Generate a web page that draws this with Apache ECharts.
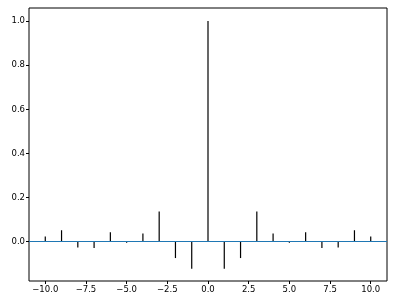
<!DOCTYPE html>
<html>
<head>
<meta charset="utf-8">
<script src="https://cdn.jsdelivr.net/npm/echarts@6/dist/echarts.min.js"></script>
<style>
  html, body { margin: 0; padding: 0; background: #fff; }
  #chart { width: 396px; height: 306px; }
</style>
</head>
<body>
<div id="chart"></div>
<script>
const lags = [-10, -9, -8, -7, -6, -5, -4, -3, -2, -1, 0, 1, 2, 3, 4, 5, 6, 7, 8, 9, 10];
const corr = [0.024, 0.052, -0.026, -0.029, 0.043, -0.005, 0.037, 0.137, -0.074, -0.123, 1.0,
              -0.123, -0.074, 0.137, 0.037, -0.005, 0.043, -0.029, -0.026, 0.052, 0.024];
const xTicks = [-10, -7.5, -5, -2.5, 0, 2.5, 5, 7.5, 10];
const yTicks = [0, 0.2, 0.4, 0.6, 0.8, 1.0];

const fmt = v => v.toFixed(1).replace('-', '\u2212');
const font = { color: '#000', fontFamily: 'DejaVu Sans', fontSize: 8.5 };

const chart = echarts.init(document.getElementById('chart'));
chart.setOption({
  backgroundColor: '#fff',
  animation: false,
  grid: { left: 29, right: 9, top: 8, bottom: 25, show: true, borderColor: '#000', borderWidth: 1 },
  xAxis: {
    type: 'value', min: -11, max: 11,
    axisLine: { show: false, onZero: false },
    splitLine: { show: false },
    axisTick: { show: true, length: 3, customValues: xTicks, lineStyle: { color: '#000' } },
    axisLabel: { ...font, margin: 4, customValues: xTicks, formatter: fmt }
  },
  yAxis: {
    type: 'value', min: -0.178, max: 1.059,
    axisLine: { show: false, onZero: false },
    splitLine: { show: false },
    axisTick: { show: true, length: 3, customValues: yTicks, lineStyle: { color: '#000' } },
    axisLabel: { ...font, margin: 4, customValues: yTicks, formatter: fmt }
  },
  series: [{
    type: 'bar',
    data: lags.map((l, i) => [l, corr[i]]),
    barWidth: 1.2,
    itemStyle: { color: '#000' },
    markLine: {
      silent: true,
      symbol: 'none',
      label: { show: false },
      lineStyle: { color: '#1f77b4', type: 'solid', width: 1.2 },
      data: [{ yAxis: 0 }]
    }
  }]
});
</script>
</body>
</html>
